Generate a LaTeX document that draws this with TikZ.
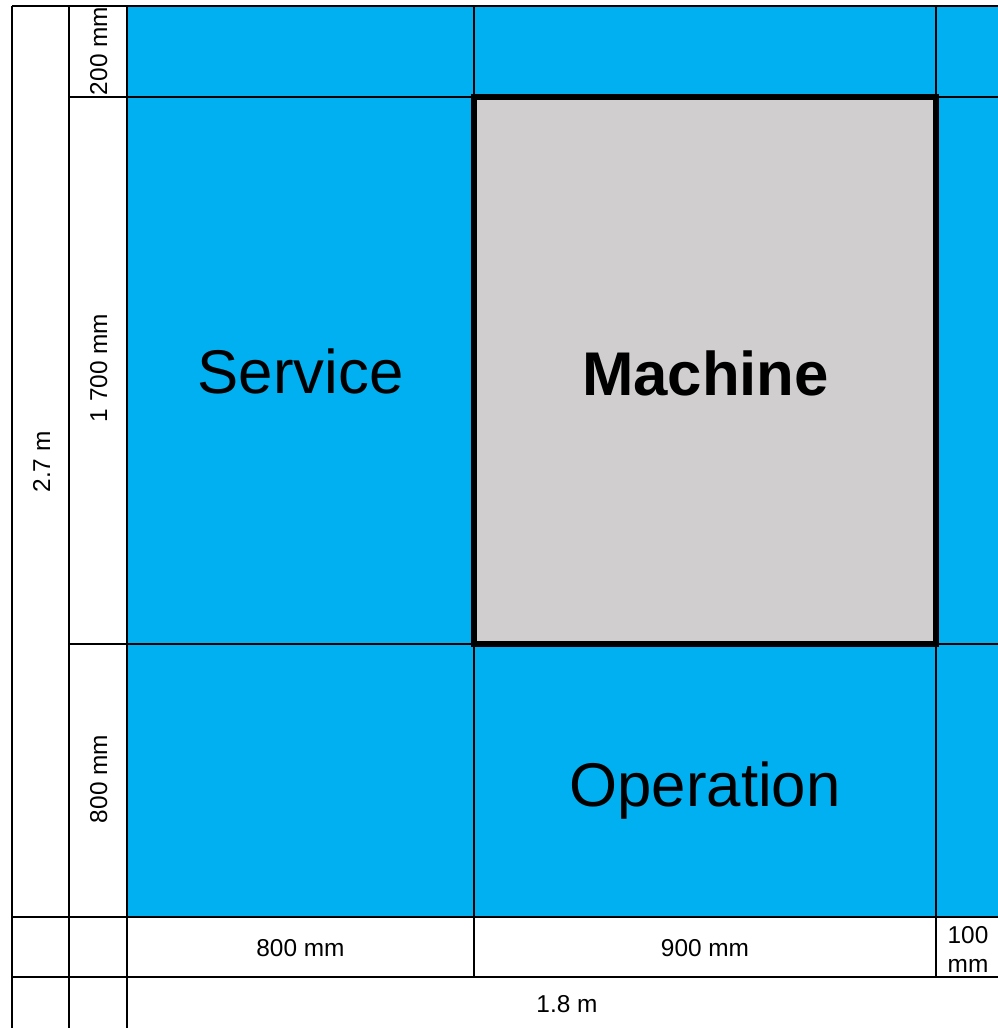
\documentclass[tikz,border=0pt]{standalone}
\usepackage{fontspec}
\setmainfont{Liberation Sans}
\definecolor{cellblue}{HTML}{00B0F0}
\definecolor{machgrey}{HTML}{D0CECE}
\begin{document}
\begin{tikzpicture}[x=0.75pt,y=-0.75pt,
  thinline/.style={line width=1.5pt,black},
  bigtxt/.style={font=\fontsize{46.3}{50}\selectfont,inner sep=0pt,anchor=base},
  smalltxt/.style={font=\fontsize{18.3}{22}\selectfont,inner sep=0pt,anchor=base},
  vtxt/.style={smalltxt,rotate=90}]
\useasboundingbox (0,0) rectangle (997,1028);
\fill[white] (0,0) rectangle (997,1028);
% blue area
\fill[cellblue] (127,6) rectangle (1000,917);
% machine
\fill[machgrey] (474,97) rectangle (936,644);
% grid lines
\draw[thinline] (12,6) -- (1000,6);
\draw[thinline] (12,6) -- (12,1030);
\draw[thinline] (69,6) -- (69,1030);
\draw[thinline] (127,6) -- (127,1030);
\draw[thinline] (69,97) -- (1000,97);
\draw[thinline] (69,644) -- (1000,644);
\draw[thinline] (12,917) -- (1000,917);
\draw[thinline] (12,977) -- (1000,977);
\draw[thinline] (474,6) -- (474,977);
\draw[thinline] (936,6) -- (936,977);
\draw[line width=4.5pt,black] (474,97) rectangle (936,644);
% big labels
\node[bigtxt] (service) at (300.5,393) {Service};
\node[bigtxt,font=\fontsize{46.3}{50}\selectfont\bfseries] (machine) at (705.5,395) {Machine};
\node[bigtxt] (operation) at (705,806) {Operation};
% bottom dimensions
\node[smalltxt] (d800) at (300.5,956) {800 mm};
\node[smalltxt] (d900) at (705,956) {900 mm};
\node[smalltxt] (d100a) at (968,943) {100};
\node[smalltxt] (d100b) at (968,972) {mm};
\node[smalltxt] (d18) at (567,1012) {1.8 m};
% vertical dimensions
\node[vtxt] (v200) at (107,51) {200 mm};
\node[vtxt] (v1700) at (107,368) {1 700 mm};
\node[vtxt] (v800) at (107,779) {800 mm};
\node[vtxt] (v27) at (50,462) {2.7 m};
\end{tikzpicture}
\end{document}
